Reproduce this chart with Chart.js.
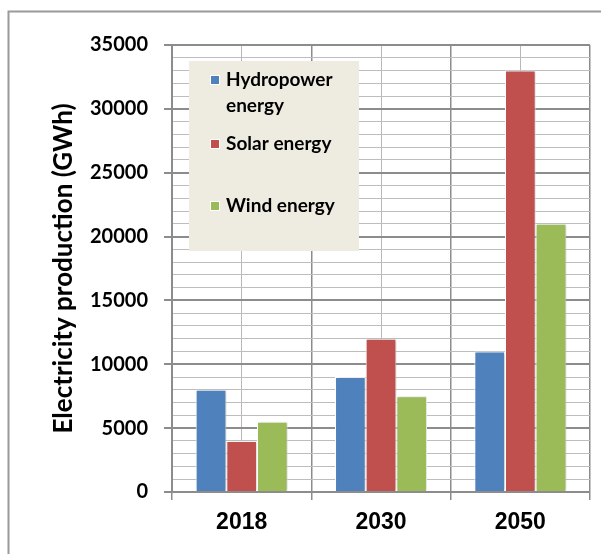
<!DOCTYPE html>
<html>
<head>
<meta charset="utf-8">
<script src="https://cdn.jsdelivr.net/npm/chart.js@4.4.1/dist/chart.umd.min.js"></script>
<style>
  html, body { margin: 0; padding: 0; background: #ffffff; }
  #wrap { position: relative; width: 601px; height: 554px; }
  canvas { display: block; }
</style>
</head>
<body>
<div id="wrap"><canvas id="c" width="601" height="554"></canvas></div>
<script>
// ---- data ----
const categories = ['2018', '2030', '2050'];
const seriesLabels = ['Hydropower energy', 'Solar energy', 'Wind energy'];
const hydropower = [8000, 9000, 11000];
const solar = [4000, 12000, 33000];
const wind = [5500, 7500, 21000];
const yMin = 0;
const yMax = 35000;
const yMinorStep = 1000;
const yMajorStep = 5000;
const yTitle = 'Electricity production (GWh)';

const colors = ['#4F81BD', '#C0504D', '#9BBB59'];

const framePlugin = {
  id: 'frame',
  beforeDraw(chart) {
    const ctx = chart.ctx;
    ctx.save();
    ctx.fillStyle = '#ffffff';
    ctx.fillRect(0, 0, chart.width, chart.height);
    ctx.strokeStyle = '#9a9a9a';
    ctx.lineWidth = 2;
    ctx.beginPath();
    ctx.moveTo(8.5, chart.height);
    ctx.lineTo(8.5, 11.5);
    ctx.lineTo(chart.width, 11.5);
    ctx.stroke();
    ctx.restore();
  }
};

const shadowPlugin = {
  id: 'barShadow',
  beforeDatasetsDraw(chart) {
    const ctx = chart.ctx;
    ctx.save();
    ctx.shadowColor = 'rgba(0,0,0,0.22)';
    ctx.shadowBlur = 3;
    ctx.shadowOffsetX = 1.5;
    ctx.shadowOffsetY = 0;
  },
  afterDatasetsDraw(chart) {
    chart.ctx.restore();
  }
};

const boxLegendPlugin = {
  id: 'boxLegend',
  afterDatasetsDraw(chart, args, opts) {
    const ctx = chart.ctx;
    ctx.save();
    ctx.fillStyle = opts.background;
    ctx.fillRect(opts.x, opts.y, opts.w, opts.h);
    ctx.font = opts.font;
    ctx.textBaseline = 'middle';
    ctx.textAlign = 'left';
    chart.data.datasets.forEach((ds, i) => {
      const cy = opts.itemY[i];
      ctx.fillStyle = ds.backgroundColor;
      ctx.fillRect(opts.boxX, cy - opts.boxSize / 2, opts.boxSize, opts.boxSize);
      ctx.strokeStyle = '#ffffff';
      ctx.lineWidth = 1;
      ctx.strokeRect(opts.boxX + 0.5, cy - opts.boxSize / 2 + 0.5, opts.boxSize - 1, opts.boxSize - 1);
      ctx.fillStyle = '#000000';
      const words = ds.label.split(' ');
      const lines = [];
      let cur = '';
      words.forEach(w => {
        const test = cur ? cur + ' ' + w : w;
        if (cur && ctx.measureText(test).width > opts.maxTextWidth) {
          lines.push(cur);
          cur = w;
        } else {
          cur = test;
        }
      });
      if (cur) lines.push(cur);
      lines.forEach((ln, k) => {
        ctx.fillText(ln, opts.textX, cy + k * opts.lineGap);
      });
    });
    ctx.restore();
  }
};

function isMajor(v) { return Math.abs(v % yMajorStep) < 1e-6; }

function draw() {
  new Chart(document.getElementById('c'), {
    type: 'bar',
    data: {
      labels: categories,
      datasets: [
        { label: seriesLabels[0], data: hydropower, backgroundColor: colors[0] },
        { label: seriesLabels[1], data: solar, backgroundColor: colors[1] },
        { label: seriesLabels[2], data: wind, backgroundColor: colors[2] }
      ]
    },
    options: {
      responsive: false,
      maintainAspectRatio: false,
      devicePixelRatio: 1,
      animation: false,
      layout: { padding: { top: 45, right: 11, left: 0, bottom: 0 } },
      datasets: {
        bar: {
          categoryPercentage: 0.66,
          barPercentage: 1.0,
          borderColor: '#ffffff',
          borderWidth: 1
        }
      },
      plugins: {
        legend: { display: false },
        tooltip: { enabled: false },
        title: { display: false },
        boxLegend: {
          background: '#EEECE1',
          x: 189, y: 61, w: 170, h: 190,
          boxX: 210, boxSize: 10,
          textX: 226,
          itemY: [80, 144, 206],
          lineGap: 26,
          maxTextWidth: 125,
          font: 'bold 19px Lato, "Open Sans", sans-serif'
        }
      },
      scales: {
        x: {
          type: 'category',
          position: 'bottom',
          offset: true,
          afterFit(s) { s.height = 62; },
          grid: {
            offset: true,
            color: '#8c8c8c',
            lineWidth: 1.5,
            tickLength: 8,
            drawTicks: true,
            tickColor: '#8c8c8c'
          },
          border: { display: true, color: '#8c8c8c', width: 2 },
          ticks: {
            color: '#000000',
            padding: 9,
            font: { family: '"Liberation Sans", Arial, sans-serif', size: 23, weight: 'bold' }
          }
        },
        x2: {
          type: 'category',
          position: 'top',
          offset: true,
          afterFit(s) { s.height = 0; },
          grid: {
            offset: false,
            color: '#b8b8b8',
            lineWidth: 1,
            drawTicks: false
          },
          border: { display: false },
          ticks: { display: false }
        },
        y: {
          type: 'linear',
          min: yMin,
          max: yMax,
          afterFit(s) { s.width = 172; },
          grid: {
            color: (c) => isMajor(c.tick.value) ? '#8c8c8c' : '#bdbdbd',
            lineWidth: (c) => isMajor(c.tick.value) ? 2 : 1,
            tickColor: (c) => isMajor(c.tick.value) ? '#8c8c8c' : 'rgba(0,0,0,0)',
            tickLength: 8,
            drawTicks: true
          },
          border: { display: true, color: '#8c8c8c', width: 2 },
          ticks: {
            stepSize: yMinorStep,
            autoSkip: false,
            padding: 16,
            color: '#000000',
            font: { family: 'Lato, "Open Sans", sans-serif', size: 20, weight: 'bold' },
            callback: (v) => isMajor(v) ? String(v) : ''
          },
          title: {
            display: true,
            text: yTitle,
            color: '#000000',
            padding: { top: 48, bottom: 0 },
            font: { family: 'Lato, "Open Sans", sans-serif', size: 26, weight: 'bold' }
          }
        }
      }
    },
    plugins: [framePlugin, shadowPlugin, boxLegendPlugin]
  });
}

if (document.fonts && document.fonts.load) {
  Promise.all([
    document.fonts.load('bold 20px Lato'),
    document.fonts.load('bold 23px "Liberation Sans"')
  ]).then(draw, draw);
} else {
  draw();
}
</script>
</body>
</html>
